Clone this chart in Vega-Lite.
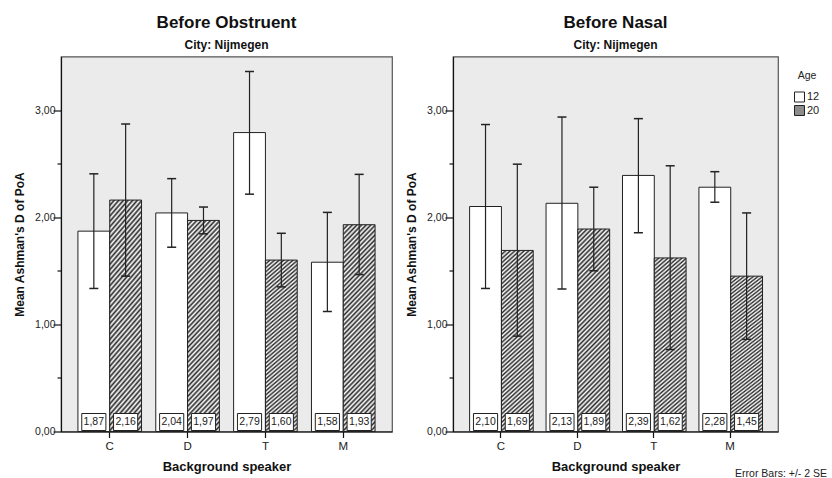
{
  "$schema": "https://vega.github.io/schema/vega-lite/v6.json",
  "padding": {"left": 12, "top": 12.5, "right": 0, "bottom": 0},
  "config": {
    "font": "Liberation Sans",
    "locale": {"number": {"decimal": ",", "thousands": ".", "grouping": [3], "currency": ["", " €"]}},
    "view": {"fill": "#ebebeb", "stroke": "#555", "strokeWidth": 1.2},
    "title": {"fontSize": 17, "fontWeight": "bold", "subtitleFontSize": 12, "subtitleFontWeight": "bold", "subtitlePadding": 8, "offset": 5, "color": "#111", "subtitleColor": "#111"},
    "axis": {"domainColor": "#111", "tickColor": "#111", "labelColor": "#222", "titleColor": "#111", "grid": false, "titleFontWeight": "bold", "domainWidth": 1.2, "tickWidth": 1.2}
  },
  "data": {"values": [
    {"panel": "Before Obstruent", "speaker": "C", "age": "12", "mean": 1.87, "lo": 1.335, "hi": 2.405},
    {"panel": "Before Obstruent", "speaker": "C", "age": "20", "mean": 2.16, "lo": 1.45, "hi": 2.87},
    {"panel": "Before Obstruent", "speaker": "D", "age": "12", "mean": 2.04, "lo": 1.72, "hi": 2.36},
    {"panel": "Before Obstruent", "speaker": "D", "age": "20", "mean": 1.97, "lo": 1.845, "hi": 2.095},
    {"panel": "Before Obstruent", "speaker": "T", "age": "12", "mean": 2.79, "lo": 2.215, "hi": 3.36},
    {"panel": "Before Obstruent", "speaker": "T", "age": "20", "mean": 1.60, "lo": 1.35, "hi": 1.85},
    {"panel": "Before Obstruent", "speaker": "M", "age": "12", "mean": 1.58, "lo": 1.12, "hi": 2.045},
    {"panel": "Before Obstruent", "speaker": "M", "age": "20", "mean": 1.93, "lo": 1.465, "hi": 2.40},
    {"panel": "Before Nasal", "speaker": "C", "age": "12", "mean": 2.10, "lo": 1.335, "hi": 2.865},
    {"panel": "Before Nasal", "speaker": "C", "age": "20", "mean": 1.69, "lo": 0.89, "hi": 2.495},
    {"panel": "Before Nasal", "speaker": "D", "age": "12", "mean": 2.13, "lo": 1.33, "hi": 2.935},
    {"panel": "Before Nasal", "speaker": "D", "age": "20", "mean": 1.89, "lo": 1.50, "hi": 2.28},
    {"panel": "Before Nasal", "speaker": "T", "age": "12", "mean": 2.39, "lo": 1.855, "hi": 2.92},
    {"panel": "Before Nasal", "speaker": "T", "age": "20", "mean": 1.62, "lo": 0.765, "hi": 2.48},
    {"panel": "Before Nasal", "speaker": "M", "age": "12", "mean": 2.28, "lo": 2.14, "hi": 2.425},
    {"panel": "Before Nasal", "speaker": "M", "age": "20", "mean": 1.45, "lo": 0.86, "hi": 2.04}
  ]},
  "spacing": 11,
  "title": {"text": "Error Bars: +/- 2 SE", "orient": "bottom", "anchor": "end", "fontSize": 10.5, "fontWeight": "normal", "offset": -5, "dx": -7, "color": "#222"},
  "hconcat": [
    {
      "title": {"text": "Before Obstruent", "subtitle": "City: Nijmegen"},
      "width": 331, "height": 375,
      "transform": [{"filter": "datum.panel === 'Before Obstruent'"}],
      "encoding": {
        "x": {"field": "speaker", "type": "nominal", "sort": ["C", "D", "T", "M"], "title": "Background speaker",
              "scale": {"paddingInner": 0.183, "paddingOuter": 0.2175},
              "axis": {"labelAngle": 0, "labelFontSize": 11.5, "tickSize": 6, "labelPadding": 3, "titleFontSize": 13, "titlePadding": 8}},
        "xOffset": {"field": "age", "type": "nominal", "sort": ["12", "20"], "scale": {"paddingInner": 0, "paddingOuter": 0}}
      },
      "layer": [
        {"mark": {"type": "bar"},
         "encoding": {"y": {"datum": 0}, "y2": {"datum": 0},
           "fill": {"field": "age", "type": "nominal", "scale": {"domain": ["12", "20"], "range": ["#ffffff", "#8c8c8c"]},
                    "legend": {"title": "Age", "orient": "right", "offset": 0.5, "padding": 14, "titleFontSize": 10.5, "titleFontWeight": "normal", "titleAnchor": "middle", "titlePadding": 10.5, "labelFontSize": 11, "symbolType": "square", "symbolSize": 100, "symbolStrokeColor": "#222", "symbolStrokeWidth": 1, "symbolOpacity": 1, "rowPadding": -1.5, "labelOffset": 2, "titleColor": "#222", "labelColor": "#222"}}}},
        {"mark": {"type": "bar", "stroke": "#222", "strokeWidth": 1},
         "encoding": {
           "y": {"field": "mean", "type": "quantitative", "title": "Mean Ashman's D of PoA", "scale": {"domain": [0, 3.5], "nice": false},
                 "axis": {"values": [0, 0.5, 1, 1.5, 2, 2.5, 3], "format": ".2f", "labelExpr": "datum.value % 1 === 0 ? datum.label : ''",
                          "tickSize": {"condition": {"test": "datum.value % 1 === 0", "value": 8}, "value": 4},
                          "labelFontSize": 10.5, "labelPadding": -2, "titleFontSize": 12, "titlePadding": 8}},
           "fill": {"condition": {"test": "datum.age === '20'", "value": {"gradient": "linear", "x1": 0, "y1": 0, "x2": 0.18, "y2": 1.13, "stops": [
                      {"offset": 0, "color": "#2a2a2a"}, {"offset": 0.01, "color": "#ffffff"}, {"offset": 0.02, "color": "#2a2a2a"}, {"offset": 0.03, "color": "#ffffff"}, {"offset": 0.04, "color": "#2a2a2a"}, {"offset": 0.05, "color": "#ffffff"}, {"offset": 0.06, "color": "#2a2a2a"}, {"offset": 0.07, "color": "#ffffff"}, {"offset": 0.08, "color": "#2a2a2a"}, {"offset": 0.09, "color": "#ffffff"},
                      {"offset": 0.10, "color": "#2a2a2a"}, {"offset": 0.11, "color": "#ffffff"}, {"offset": 0.12, "color": "#2a2a2a"}, {"offset": 0.13, "color": "#ffffff"}, {"offset": 0.14, "color": "#2a2a2a"}, {"offset": 0.15, "color": "#ffffff"}, {"offset": 0.16, "color": "#2a2a2a"}, {"offset": 0.17, "color": "#ffffff"}, {"offset": 0.18, "color": "#2a2a2a"}, {"offset": 0.19, "color": "#ffffff"},
                      {"offset": 0.20, "color": "#2a2a2a"}, {"offset": 0.21, "color": "#ffffff"}, {"offset": 0.22, "color": "#2a2a2a"}, {"offset": 0.23, "color": "#ffffff"}, {"offset": 0.24, "color": "#2a2a2a"}, {"offset": 0.25, "color": "#ffffff"}, {"offset": 0.26, "color": "#2a2a2a"}, {"offset": 0.27, "color": "#ffffff"}, {"offset": 0.28, "color": "#2a2a2a"}, {"offset": 0.29, "color": "#ffffff"},
                      {"offset": 0.30, "color": "#2a2a2a"}, {"offset": 0.31, "color": "#ffffff"}, {"offset": 0.32, "color": "#2a2a2a"}, {"offset": 0.33, "color": "#ffffff"}, {"offset": 0.34, "color": "#2a2a2a"}, {"offset": 0.35, "color": "#ffffff"}, {"offset": 0.36, "color": "#2a2a2a"}, {"offset": 0.37, "color": "#ffffff"}, {"offset": 0.38, "color": "#2a2a2a"}, {"offset": 0.39, "color": "#ffffff"},
                      {"offset": 0.40, "color": "#2a2a2a"}, {"offset": 0.41, "color": "#ffffff"}, {"offset": 0.42, "color": "#2a2a2a"}, {"offset": 0.43, "color": "#ffffff"}, {"offset": 0.44, "color": "#2a2a2a"}, {"offset": 0.45, "color": "#ffffff"}, {"offset": 0.46, "color": "#2a2a2a"}, {"offset": 0.47, "color": "#ffffff"}, {"offset": 0.48, "color": "#2a2a2a"}, {"offset": 0.49, "color": "#ffffff"},
                      {"offset": 0.50, "color": "#2a2a2a"}, {"offset": 0.51, "color": "#ffffff"}, {"offset": 0.52, "color": "#2a2a2a"}, {"offset": 0.53, "color": "#ffffff"}, {"offset": 0.54, "color": "#2a2a2a"}, {"offset": 0.55, "color": "#ffffff"}, {"offset": 0.56, "color": "#2a2a2a"}, {"offset": 0.57, "color": "#ffffff"}, {"offset": 0.58, "color": "#2a2a2a"}, {"offset": 0.59, "color": "#ffffff"},
                      {"offset": 0.60, "color": "#2a2a2a"}, {"offset": 0.61, "color": "#ffffff"}, {"offset": 0.62, "color": "#2a2a2a"}, {"offset": 0.63, "color": "#ffffff"}, {"offset": 0.64, "color": "#2a2a2a"}, {"offset": 0.65, "color": "#ffffff"}, {"offset": 0.66, "color": "#2a2a2a"}, {"offset": 0.67, "color": "#ffffff"}, {"offset": 0.68, "color": "#2a2a2a"}, {"offset": 0.69, "color": "#ffffff"},
                      {"offset": 0.70, "color": "#2a2a2a"}, {"offset": 0.71, "color": "#ffffff"}, {"offset": 0.72, "color": "#2a2a2a"}, {"offset": 0.73, "color": "#ffffff"}, {"offset": 0.74, "color": "#2a2a2a"}, {"offset": 0.75, "color": "#ffffff"}, {"offset": 0.76, "color": "#2a2a2a"}, {"offset": 0.77, "color": "#ffffff"}, {"offset": 0.78, "color": "#2a2a2a"}, {"offset": 0.79, "color": "#ffffff"},
                      {"offset": 0.80, "color": "#2a2a2a"}, {"offset": 0.81, "color": "#ffffff"}, {"offset": 0.82, "color": "#2a2a2a"}, {"offset": 0.83, "color": "#ffffff"}, {"offset": 0.84, "color": "#2a2a2a"}, {"offset": 0.85, "color": "#ffffff"}, {"offset": 0.86, "color": "#2a2a2a"}, {"offset": 0.87, "color": "#ffffff"}, {"offset": 0.88, "color": "#2a2a2a"}, {"offset": 0.89, "color": "#ffffff"},
                      {"offset": 0.90, "color": "#2a2a2a"}, {"offset": 0.91, "color": "#ffffff"}, {"offset": 0.92, "color": "#2a2a2a"}, {"offset": 0.93, "color": "#ffffff"}, {"offset": 0.94, "color": "#2a2a2a"}, {"offset": 0.95, "color": "#ffffff"}, {"offset": 0.96, "color": "#2a2a2a"}, {"offset": 0.97, "color": "#ffffff"}, {"offset": 0.98, "color": "#2a2a2a"}, {"offset": 0.99, "color": "#ffffff"},
                      {"offset": 1, "color": "#2a2a2a"}
                    ]}}, "value": "#ffffff"}
         }},
        {"mark": {"type": "rule", "color": "#222", "strokeWidth": 1.2},
         "encoding": {"y": {"field": "lo", "type": "quantitative", "title": "Mean Ashman's D of PoA"}, "y2": {"field": "hi"}}},
        {"mark": {"type": "tick", "color": "#222", "thickness": 1.5, "size": 9, "opacity": 1},
         "encoding": {"y": {"field": "lo", "type": "quantitative", "title": "Mean Ashman's D of PoA"}}},
        {"mark": {"type": "tick", "color": "#222", "thickness": 1.5, "size": 9, "opacity": 1},
         "encoding": {"y": {"field": "hi", "type": "quantitative", "title": "Mean Ashman's D of PoA"}}},
        {"mark": {"type": "point", "shape": "M-1.42,-1H1.42V1H-1.42Z", "size": 289, "filled": true, "fill": "#ffffff", "stroke": "#222", "strokeWidth": 1, "opacity": 1, "yOffset": -9.5},
         "encoding": {"y": {"datum": 0}}},
        {"mark": {"type": "text", "fontSize": 10.5, "color": "#222", "yOffset": -9.5, "baseline": "middle"},
         "encoding": {"y": {"datum": 0}, "text": {"field": "mean", "type": "quantitative", "format": ".2f"}}}
      ]
    },
    {
      "title": {"text": "Before Nasal", "subtitle": "City: Nijmegen"},
      "width": 325, "height": 375,
      "transform": [{"filter": "datum.panel === 'Before Nasal'"}],
      "encoding": {
        "x": {"field": "speaker", "type": "nominal", "sort": ["C", "D", "T", "M"], "title": "Background speaker",
              "scale": {"paddingInner": 0.183, "paddingOuter": 0.2175},
              "axis": {"labelAngle": 0, "labelFontSize": 11.5, "tickSize": 6, "labelPadding": 3, "titleFontSize": 13, "titlePadding": 8}},
        "xOffset": {"field": "age", "type": "nominal", "sort": ["12", "20"], "scale": {"paddingInner": 0, "paddingOuter": 0}}
      },
      "layer": [
        {"mark": {"type": "bar"},
         "encoding": {"y": {"datum": 0}, "y2": {"datum": 0}, "fill": {"field": "age", "type": "nominal"}}},
        {"mark": {"type": "bar", "stroke": "#222", "strokeWidth": 1},
         "encoding": {
           "y": {"field": "mean", "type": "quantitative", "title": "Mean Ashman's D of PoA", "scale": {"domain": [0, 3.5], "nice": false},
                 "axis": {"values": [0, 0.5, 1, 1.5, 2, 2.5, 3], "format": ".2f", "labelExpr": "datum.value % 1 === 0 ? datum.label : ''",
                          "tickSize": {"condition": {"test": "datum.value % 1 === 0", "value": 8}, "value": 4},
                          "labelFontSize": 10.5, "labelPadding": -2, "titleFontSize": 12, "titlePadding": 8}},
           "fill": {"condition": {"test": "datum.age === '20'", "value": {"gradient": "linear", "x1": 0, "y1": 0, "x2": 0.18, "y2": 1.13, "stops": [
                      {"offset": 0, "color": "#2a2a2a"}, {"offset": 0.01, "color": "#ffffff"}, {"offset": 0.02, "color": "#2a2a2a"}, {"offset": 0.03, "color": "#ffffff"}, {"offset": 0.04, "color": "#2a2a2a"}, {"offset": 0.05, "color": "#ffffff"}, {"offset": 0.06, "color": "#2a2a2a"}, {"offset": 0.07, "color": "#ffffff"}, {"offset": 0.08, "color": "#2a2a2a"}, {"offset": 0.09, "color": "#ffffff"},
                      {"offset": 0.10, "color": "#2a2a2a"}, {"offset": 0.11, "color": "#ffffff"}, {"offset": 0.12, "color": "#2a2a2a"}, {"offset": 0.13, "color": "#ffffff"}, {"offset": 0.14, "color": "#2a2a2a"}, {"offset": 0.15, "color": "#ffffff"}, {"offset": 0.16, "color": "#2a2a2a"}, {"offset": 0.17, "color": "#ffffff"}, {"offset": 0.18, "color": "#2a2a2a"}, {"offset": 0.19, "color": "#ffffff"},
                      {"offset": 0.20, "color": "#2a2a2a"}, {"offset": 0.21, "color": "#ffffff"}, {"offset": 0.22, "color": "#2a2a2a"}, {"offset": 0.23, "color": "#ffffff"}, {"offset": 0.24, "color": "#2a2a2a"}, {"offset": 0.25, "color": "#ffffff"}, {"offset": 0.26, "color": "#2a2a2a"}, {"offset": 0.27, "color": "#ffffff"}, {"offset": 0.28, "color": "#2a2a2a"}, {"offset": 0.29, "color": "#ffffff"},
                      {"offset": 0.30, "color": "#2a2a2a"}, {"offset": 0.31, "color": "#ffffff"}, {"offset": 0.32, "color": "#2a2a2a"}, {"offset": 0.33, "color": "#ffffff"}, {"offset": 0.34, "color": "#2a2a2a"}, {"offset": 0.35, "color": "#ffffff"}, {"offset": 0.36, "color": "#2a2a2a"}, {"offset": 0.37, "color": "#ffffff"}, {"offset": 0.38, "color": "#2a2a2a"}, {"offset": 0.39, "color": "#ffffff"},
                      {"offset": 0.40, "color": "#2a2a2a"}, {"offset": 0.41, "color": "#ffffff"}, {"offset": 0.42, "color": "#2a2a2a"}, {"offset": 0.43, "color": "#ffffff"}, {"offset": 0.44, "color": "#2a2a2a"}, {"offset": 0.45, "color": "#ffffff"}, {"offset": 0.46, "color": "#2a2a2a"}, {"offset": 0.47, "color": "#ffffff"}, {"offset": 0.48, "color": "#2a2a2a"}, {"offset": 0.49, "color": "#ffffff"},
                      {"offset": 0.50, "color": "#2a2a2a"}, {"offset": 0.51, "color": "#ffffff"}, {"offset": 0.52, "color": "#2a2a2a"}, {"offset": 0.53, "color": "#ffffff"}, {"offset": 0.54, "color": "#2a2a2a"}, {"offset": 0.55, "color": "#ffffff"}, {"offset": 0.56, "color": "#2a2a2a"}, {"offset": 0.57, "color": "#ffffff"}, {"offset": 0.58, "color": "#2a2a2a"}, {"offset": 0.59, "color": "#ffffff"},
                      {"offset": 0.60, "color": "#2a2a2a"}, {"offset": 0.61, "color": "#ffffff"}, {"offset": 0.62, "color": "#2a2a2a"}, {"offset": 0.63, "color": "#ffffff"}, {"offset": 0.64, "color": "#2a2a2a"}, {"offset": 0.65, "color": "#ffffff"}, {"offset": 0.66, "color": "#2a2a2a"}, {"offset": 0.67, "color": "#ffffff"}, {"offset": 0.68, "color": "#2a2a2a"}, {"offset": 0.69, "color": "#ffffff"},
                      {"offset": 0.70, "color": "#2a2a2a"}, {"offset": 0.71, "color": "#ffffff"}, {"offset": 0.72, "color": "#2a2a2a"}, {"offset": 0.73, "color": "#ffffff"}, {"offset": 0.74, "color": "#2a2a2a"}, {"offset": 0.75, "color": "#ffffff"}, {"offset": 0.76, "color": "#2a2a2a"}, {"offset": 0.77, "color": "#ffffff"}, {"offset": 0.78, "color": "#2a2a2a"}, {"offset": 0.79, "color": "#ffffff"},
                      {"offset": 0.80, "color": "#2a2a2a"}, {"offset": 0.81, "color": "#ffffff"}, {"offset": 0.82, "color": "#2a2a2a"}, {"offset": 0.83, "color": "#ffffff"}, {"offset": 0.84, "color": "#2a2a2a"}, {"offset": 0.85, "color": "#ffffff"}, {"offset": 0.86, "color": "#2a2a2a"}, {"offset": 0.87, "color": "#ffffff"}, {"offset": 0.88, "color": "#2a2a2a"}, {"offset": 0.89, "color": "#ffffff"},
                      {"offset": 0.90, "color": "#2a2a2a"}, {"offset": 0.91, "color": "#ffffff"}, {"offset": 0.92, "color": "#2a2a2a"}, {"offset": 0.93, "color": "#ffffff"}, {"offset": 0.94, "color": "#2a2a2a"}, {"offset": 0.95, "color": "#ffffff"}, {"offset": 0.96, "color": "#2a2a2a"}, {"offset": 0.97, "color": "#ffffff"}, {"offset": 0.98, "color": "#2a2a2a"}, {"offset": 0.99, "color": "#ffffff"},
                      {"offset": 1, "color": "#2a2a2a"}
                    ]}}, "value": "#ffffff"}
         }},
        {"mark": {"type": "rule", "color": "#222", "strokeWidth": 1.2},
         "encoding": {"y": {"field": "lo", "type": "quantitative", "title": "Mean Ashman's D of PoA"}, "y2": {"field": "hi"}}},
        {"mark": {"type": "tick", "color": "#222", "thickness": 1.5, "size": 9, "opacity": 1},
         "encoding": {"y": {"field": "lo", "type": "quantitative", "title": "Mean Ashman's D of PoA"}}},
        {"mark": {"type": "tick", "color": "#222", "thickness": 1.5, "size": 9, "opacity": 1},
         "encoding": {"y": {"field": "hi", "type": "quantitative", "title": "Mean Ashman's D of PoA"}}},
        {"mark": {"type": "point", "shape": "M-1.42,-1H1.42V1H-1.42Z", "size": 289, "filled": true, "fill": "#ffffff", "stroke": "#222", "strokeWidth": 1, "opacity": 1, "yOffset": -9.5},
         "encoding": {"y": {"datum": 0}}},
        {"mark": {"type": "text", "fontSize": 10.5, "color": "#222", "yOffset": -9.5, "baseline": "middle"},
         "encoding": {"y": {"datum": 0}, "text": {"field": "mean", "type": "quantitative", "format": ".2f"}}}
      ]
    }
  ]
}
